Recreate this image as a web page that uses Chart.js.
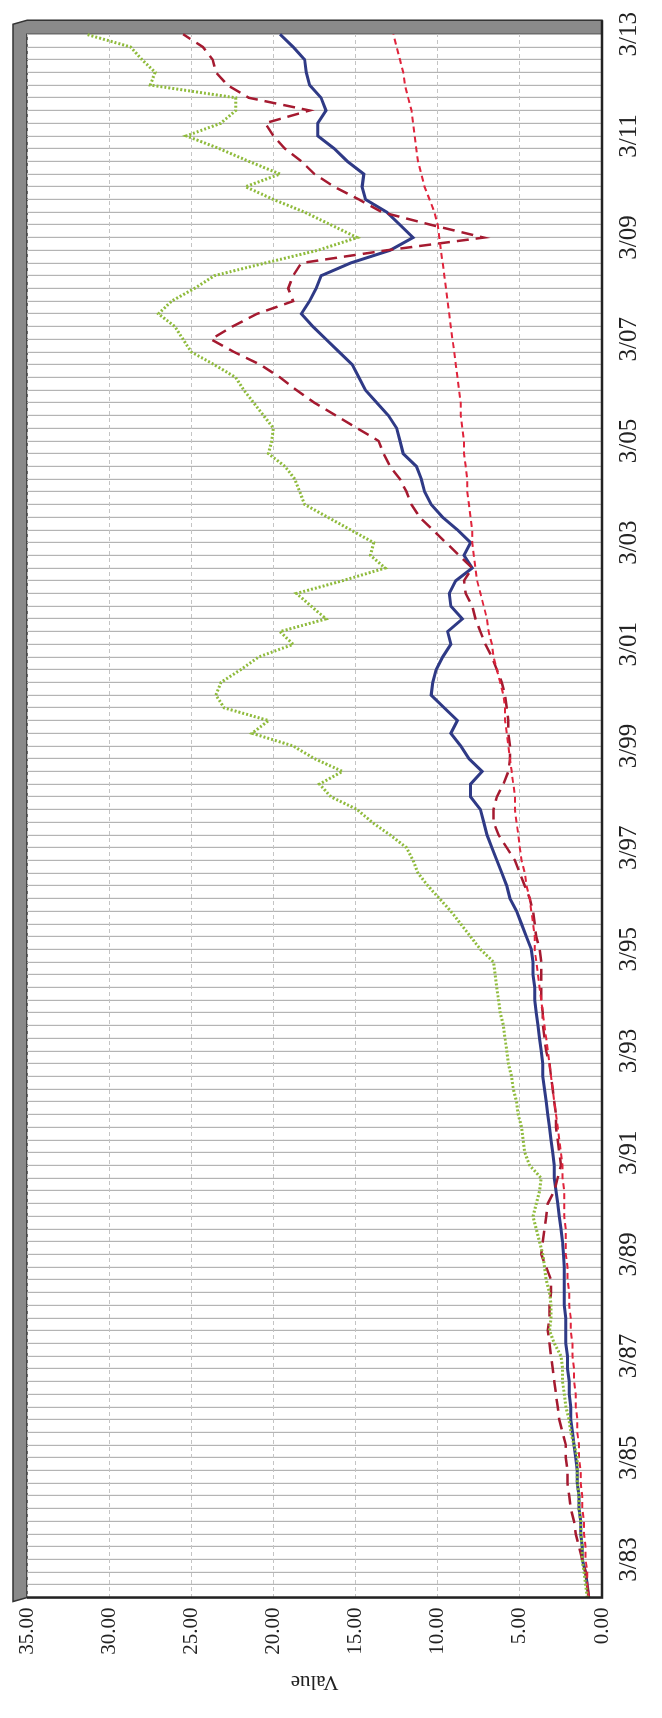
<!DOCTYPE html>
<html>
<head>
<meta charset="utf-8">
<script src="https://cdn.jsdelivr.net/npm/chart.js@4.4.1/dist/chart.umd.min.js"></script>
<style>
  html, body { margin: 0; padding: 0; background: #fff; overflow: hidden; }
  #wrap {
    position: absolute; left: 0; top: 0; width: 1718px; height: 662px;
    transform-origin: top left; transform: translate(0, 1718px) rotate(-90deg);
  }
</style>
</head>
<body>
<div id="wrap"><canvas id="myChart" width="1718" height="662"></canvas></div>
<script>
// quarterly, 6/82 .. 3/13
var startYear = 1982, startMonth = 6;

var blueSeries = [0.8, 0.9, 1.0,
  1.2, 1.2, 1.3, 1.3, 1.4, 1.4, 1.5, 1.5, 1.6, 1.7, 1.8, 1.9, 1.9, 2.0, 2.0, 2.1, 2.1, 2.2, 2.2, 2.2, 2.3, 2.3, 2.3, 2.3,
  2.35, 2.4, 2.5, 2.6, 2.7, 2.8, 2.9, 2.9, 3.0, 3.1, 3.2, 3.3, 3.4, 3.5, 3.6, 3.6, 3.7, 3.8, 3.9, 4.0, 4.1, 4.1, 4.2, 4.2,
  4.3, 4.6, 4.9, 5.2, 5.6, 5.8, 6.1, 6.4, 6.7, 7.0, 7.2, 7.4, 8.0, 8.0, 7.3, 8.1, 8.6, 9.2, 8.8, 9.6, 10.4, 10.3, 10.1, 9.7,
  9.2, 9.4, 8.5, 9.2, 9.3, 8.9, 7.9, 8.4, 8.0, 8.8, 9.7, 10.4, 10.8, 11.0, 11.3, 12.1, 12.3, 12.5, 13.0, 13.7, 14.4, 14.8,
  15.2, 16.0, 16.8, 17.6, 18.3, 17.8, 17.4, 17.1, 15.3, 12.9, 11.5, 12.3, 13.1, 14.4, 14.6, 14.5, 15.5, 16.3, 17.3, 17.3,
  16.8, 17.1, 17.8, 18.0, 18.1, 18.8, 19.6];

var greenSeries = [0.9, 1.0, 1.1,
  1.2, 1.2, 1.3, 1.3, 1.4, 1.4, 1.5, 1.5, 1.5, 1.7, 1.9, 2.0, 2.2, 2.3, 2.4, 2.4, 2.5, 2.9, 3.2, 3.1, 3.1, 3.2, 3.4, 3.5,
  3.6, 3.8, 4.0, 4.2, 4.0, 3.8, 3.7, 4.4, 4.7, 4.8, 4.9, 5.1, 5.2, 5.4, 5.5, 5.7, 5.8, 5.9, 6.0, 6.2, 6.3, 6.4, 6.5, 6.6,
  7.4, 8.0, 8.6, 9.2, 9.9, 10.6, 11.2, 11.5, 11.9, 12.9, 14.0, 14.9, 16.5, 17.2, 15.8, 17.5, 18.8, 21.3, 20.3, 23.0, 23.5,
  23.2, 22.0, 20.9, 18.8, 19.6, 16.8, 17.7, 18.6, 15.8, 13.2, 14.1, 13.9, 15.3, 16.7, 18.1, 18.4, 18.7, 19.3, 20.3, 20.1,
  20.0, 20.6, 21.2, 21.8, 22.3, 23.6, 25.0, 25.5, 26.0, 27.0, 26.2, 24.8, 23.6, 20.5, 17.3, 14.9, 16.5, 18.1, 20.0, 21.7,
  19.6, 21.5, 23.3, 25.3, 23.2, 22.3, 22.3, 27.5, 27.2, 28.0, 28.7, 31.4];

var darkRedSeries = [0.8, 0.9, 1.0,
  1.2, 1.4, 1.6, 1.7, 1.9, 2.0, 2.1, 2.1, 2.2, 2.2, 2.4, 2.6, 2.7, 2.8, 2.9, 3.0, 3.1, 3.2, 3.3, 3.2, 3.2, 3.1, 3.1, 3.4,
  3.7, 3.6, 3.5, 3.4, 3.3, 2.9, 2.7, 2.5, 2.6, 2.7, 2.8, 2.8, 2.9, 3.0, 3.1, 3.2, 3.4, 3.5, 3.6, 3.6, 3.7, 3.7, 3.7, 3.7,
  3.8, 4.0, 4.1, 4.2, 4.4, 4.7, 5.0, 5.3, 5.8, 6.3, 6.6, 6.6, 6.4, 6.0, 5.7, 5.6, 5.6, 5.7, 5.7, 5.8, 5.9, 6.1, 6.4, 6.7,
  7.1, 7.4, 7.7, 7.9, 8.3, 8.4, 7.9, 8.7, 9.5, 10.3, 11.1, 11.6, 11.9, 12.3, 12.9, 13.3, 13.6, 14.9, 16.2, 17.5, 18.6, 19.6,
  20.8, 22.4, 23.8, 22.5, 21.0, 18.8, 19.1, 18.8, 18.3, 13.1, 7.2, 10.4, 13.4, 14.8, 16.3, 17.5, 18.3, 19.3, 20.0, 20.5,
  17.8, 21.5, 22.8, 23.5, 23.7, 24.3, 25.5];

var trendSeries = [0.8, 0.9, 0.9,
  1.0, 1.0, 1.1, 1.1, 1.2, 1.2, 1.3, 1.3, 1.4, 1.4, 1.5, 1.5, 1.6, 1.6, 1.7, 1.7, 1.8, 1.8, 1.9, 1.9, 2.0, 2.0, 2.1, 2.1,
  2.2, 2.2, 2.2, 2.3, 2.3, 2.3, 2.4, 2.4, 2.5, 2.6, 2.7, 2.8, 2.9, 3.0, 3.1, 3.2, 3.3, 3.4, 3.5, 3.6, 3.7, 3.8, 3.9, 4.0,
  4.1, 4.1, 4.2, 4.3, 4.4, 4.6, 4.7, 4.9, 5.0, 5.1, 5.2, 5.3, 5.3, 5.4, 5.5, 5.6, 5.7, 5.8, 5.9, 5.9, 6.0, 6.2, 6.4, 6.6,
  6.7, 6.9, 7.0, 7.2, 7.4, 7.6, 7.7, 7.8, 7.9, 7.9, 8.0, 8.1, 8.2, 8.2, 8.3, 8.4, 8.4, 8.5, 8.6, 8.6, 8.7, 8.8, 8.9, 9.0,
  9.1, 9.2, 9.3, 9.4, 9.5, 9.6, 9.7, 9.8, 9.9, 10.0, 10.2, 10.5, 10.8, 11.0, 11.2, 11.3, 11.4, 11.5, 11.6, 11.8, 12.0,
  12.1, 12.3, 12.5, 12.7];

var labels = [];
for (var i = 0; i < blueSeries.length; i++) {
  var m = startMonth + 3 * i;
  var y = startYear + Math.floor((m - 1) / 12);
  m = ((m - 1) % 12) + 1;
  labels.push(m + '/' + String(y).slice(2));
}

// grey 3D-ish frame behind the plot
var frame = {
  id: 'frame',
  beforeDraw: function (chart) {
    var c = chart.ctx, a = chart.chartArea;
    c.save();
    c.fillStyle = '#8a8a8a';
    c.strokeStyle = '#333';
    c.lineWidth = 1.5;
    c.beginPath();
    c.moveTo(a.left, a.top);
    c.lineTo(a.left - 4, a.top - 14);
    c.lineTo(a.right + 10, a.top - 14);
    c.lineTo(a.right + 14, a.top);
    c.lineTo(a.right + 14, a.bottom);
    c.lineTo(a.right, a.bottom);
    c.lineTo(a.right, a.top);
    c.closePath();
    c.fill();
    c.stroke();
    c.restore();
  },
  afterDatasetsDraw: function (chart) {
    var c = chart.ctx, a = chart.chartArea;
    c.save();
    c.strokeStyle = '#222';
    c.lineWidth = 2.5;
    c.beginPath();
    c.moveTo(a.left, a.top);
    c.lineTo(a.left, a.bottom);
    c.lineTo(a.right + 14, a.bottom);
    c.stroke();
    c.restore();
  }
};

new Chart('myChart', {
  type: 'line',
  data: {
    labels: labels,
    datasets: [
      { data: greenSeries, borderColor: '#8fbb3c', borderWidth: 3, borderDash: [2, 2] },
      { data: trendSeries, borderColor: '#e0243c', borderWidth: 2, borderDash: [6, 4] },
      { data: darkRedSeries, borderColor: '#a51a30', borderWidth: 2.5, borderDash: [12, 7] },
      { data: blueSeries, borderColor: '#2f3a86', borderWidth: 3 }
    ]
  },
  options: {
    responsive: false,
    animation: false,
    layout: { padding: { left: 20, right: 26, top: 27, bottom: 6 } },
    plugins: { legend: { display: false }, tooltip: { enabled: false } },
    elements: { point: { radius: 0 }, line: { tension: 0 } },
    scales: {
      x: {
        grid: { color: '#b4b4b4', lineWidth: 1.2, drawTicks: false },
        border: { display: false },
        ticks: {
          autoSkip: false, maxRotation: 0, padding: 12, color: '#222',
          font: { family: 'Liberation Serif', size: 25 },
          callback: function (v, i) { return (i - 3) % 8 === 0 ? labels[i] : ''; }
        }
      },
      y: {
        min: 0, max: 35,
        grid: { color: '#c4c4c4', borderDash: [4, 3], drawTicks: false },
        border: { display: false, dash: [4, 3] },
        title: { display: true, text: 'Value', color: '#222', font: { family: 'Liberation Serif', size: 21 } },
        ticks: {
          stepSize: 5, padding: 10, color: '#222',
          font: { family: 'Liberation Serif', size: 21 },
          callback: function (v) { return v.toFixed(2); }
        }
      }
    }
  },
  plugins: [frame]
});
</script>
</body>
</html>
